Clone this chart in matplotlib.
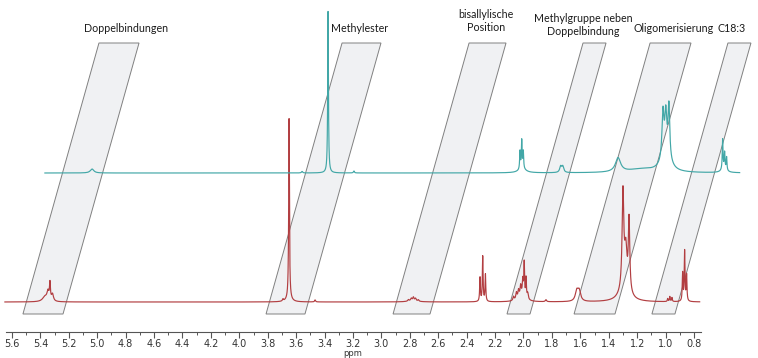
import numpy as np
import matplotlib.pyplot as plt
from matplotlib.patches import Polygon
from matplotlib.ticker import FixedLocator

# lower spectrum (red): peak position [ppm], height, half width
red_pos = [5.368, 5.347, 5.333, 5.315, 3.693, 3.650, 3.650, 3.467,
           2.81, 2.79, 2.775, 2.76, 2.74, 2.78,
           2.306, 2.287, 2.268,
           2.07, 2.05, 2.035, 2.02, 2.005, 1.995, 1.982, 1.97, 2.01,
           1.842, 1.625, 1.608,
           1.30, 1.28, 1.257, 1.29,
           0.985, 0.97, 0.955,
           0.88, 0.866, 0.852]
red_height = [5, 9, 17, 7, 2, 181, 3, 2,
              1.5, 2.5, 3.5, 2.5, 1.5, 1.2,
              24, 45, 27,
              4, 7, 8, 11, 16, 34, 20, 6, 5,
              2, 10, 10,
              96, 38, 72, 12,
              3, 5, 4,
              28, 50, 26]
red_hw = [0.02, 0.008, 0.004, 0.008, 0.004, 0.003, 0.02, 0.004,
          0.005, 0.005, 0.005, 0.005, 0.005, 0.04,
          0.003, 0.003, 0.003,
          0.005, 0.005, 0.005, 0.005, 0.004, 0.003, 0.003, 0.005, 0.03,
          0.005, 0.012, 0.012,
          0.007, 0.01, 0.006, 0.04,
          0.003, 0.003, 0.003,
          0.003, 0.003, 0.003]

# upper spectrum (teal), drawn shifted in the stack
teal_pos = [5.318, 3.84, 3.657, 3.475,
            2.306, 2.294, 2.283, 2.29,
            2.02, 2.005, 1.616, 1.45,
            1.30, 1.28, 1.258, 1.28,
            0.88, 0.866, 0.852, 0.87]
teal_height = [4, 1.5, 162, 2,
               18, 28, 17, 4,
               6, 6, 14, 3.5,
               45, 38, 52, 18,
               30, 16, 13, 4]
teal_hw = [0.015, 0.005, 0.003, 0.004,
           0.003, 0.003, 0.003, 0.03,
           0.008, 0.008, 0.022, 0.12,
           0.008, 0.008, 0.007, 0.035,
           0.003, 0.003, 0.003, 0.02]

# marked regions: lower edge of each band [ppm]
band_names = ["Doppelbindungen", "Methylester", "bisallylische\nPosition",
              "Methylgruppe neben\nDoppelbindung", "Oligomerisierung", "C18:3"]
band_lo = [5.523, 3.812, 2.918, 2.116, 1.644, 1.096]
band_hi = [5.241, 3.538, 2.658, 1.954, 1.356, 0.934]

major_ticks = [5.6, 5.4, 5.2, 5.0, 4.8, 4.6, 4.4, 4.2, 4.0, 3.8, 3.6, 3.4, 3.2,
               3.0, 2.8, 2.6, 2.4, 2.2, 2.0, 1.8, 1.6, 1.4, 1.2, 1.0, 0.8]


def spectrum(x, pos, height, hw):
    y = np.zeros_like(x)
    for p, h, w in zip(pos, height, hw):
        y += h / (1 + ((x - p) / w) ** 2)
    return y


x = np.linspace(5.65, 0.76, 12000)
red_y = spectrum(x, red_pos, red_height, red_hw)
teal_y = spectrum(x, teal_pos, teal_height, teal_hw)

shift = 0.2815      # x offset of the upper trace
lift = 129          # y offset of the upper trace
skew = 0.535        # band slant over its height
band_bottom, band_top = -12, 259

fig = plt.figure(figsize=(7.58, 3.58), dpi=100)
ax = fig.add_axes([0, 26 / 358, 1, 332 / 358])
ax.set_xlim(5.6845, 0.3494)
ax.set_ylim(-30, 302)

for lo, hi in zip(band_lo, band_hi):
    pts = [(lo, band_bottom), (hi, band_bottom),
           (hi - skew, band_top), (lo - skew, band_top)]
    ax.add_patch(Polygon(pts, closed=True, facecolor="#f0f1f3",
                         edgecolor="#808080", lw=0.7, zorder=1))

ax.plot(x, red_y, color="#b23e41", lw=0.85, zorder=3)
ax.plot(x - shift, teal_y + lift, color="#42a7a7", lw=0.85, zorder=3,
        clip_on=False)

label_x = [4.798, 3.151, 2.264, 1.581, 0.941, 0.532]
label_y = [273, 274, 281, 277, 274, 274]
for name, lx, ly in zip(band_names, label_x, label_y):
    ax.text(lx, ly, name, ha="center", va="center", fontsize=7.7,
            family="Lato", color="#1a1a1a", linespacing=1.3)

for s in ["top", "right", "left"]:
    ax.spines[s].set_visible(False)
ax.spines["bottom"].set_position(("data", -30))
ax.spines["bottom"].set_bounds(0.75, 5.64)
ax.spines["bottom"].set_color("#555555")
ax.spines["bottom"].set_linewidth(0.8)
ax.set_yticks([])
ax.xaxis.set_major_locator(FixedLocator(major_ticks))
ax.xaxis.set_minor_locator(FixedLocator(np.round(np.arange(0.9, 5.6, 0.2), 1)))
ax.set_xticklabels(["%.1f" % t for t in major_ticks])
ax.tick_params(axis="x", which="major", direction="out", length=4, width=0.8,
               color="#555555", labelsize=7, labelcolor="#333333", pad=1)
ax.tick_params(axis="x", which="minor", direction="out", length=2, width=0.7,
               color="#555555")
ax.text(3.2, -52, "ppm", ha="center", va="center", fontsize=6,
        color="#333333", clip_on=False)

fig.savefig("out.png", dpi=100)
